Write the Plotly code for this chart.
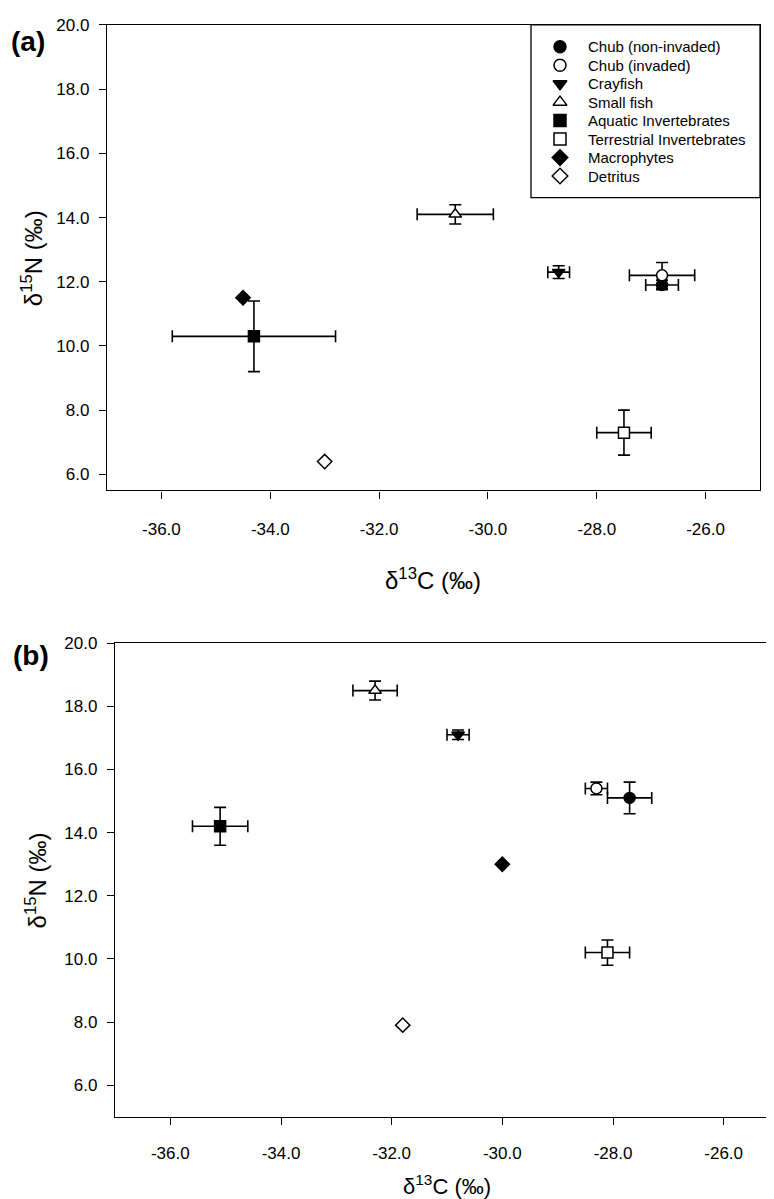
import plotly.graph_objects as go

W, H = 774, 1199

groups = ["Chub (non-invaded)", "Chub (invaded)", "Crayfish", "Small fish",
          "Aquatic Invertebrates", "Terrestrial Invertebrates", "Macrophytes", "Detritus"]

# Panel (a)
a_c13 = [-26.8, -26.8, -28.7, -30.6, -34.3, -27.5, -34.5, -33.0]
a_c13_err = [0.3, 0.6, 0.2, 0.7, 1.5, 0.5, 0.0, 0.0]
a_n15 = [11.9, 12.2, 12.3, 14.1, 10.3, 7.3, 11.5, 6.4]
a_n15_err = [0.15, 0.4, 0.2, 0.3, 1.1, 0.7, 0.0, 0.0]

# Panel (b)
b_c13 = [-27.7, -28.3, -30.8, -32.3, -35.1, -28.1, -30.0, -31.8]
b_c13_err = [0.4, 0.2, 0.2, 0.4, 0.5, 0.4, 0.0, 0.0]
b_n15 = [15.1, 15.4, 17.1, 18.5, 14.2, 10.2, 13.0, 7.9]
b_n15_err = [0.5, 0.2, 0.15, 0.3, 0.6, 0.4, 0.0, 0.0]

x_ticks = [-36, -34, -32, -30, -28, -26]
x_tick_labels = ["-36.0", "-34.0", "-32.0", "-30.0", "-28.0", "-26.0"]
y_ticks = [6, 8, 10, 12, 14, 16, 18, 20]
y_tick_labels = ["6.0", "8.0", "10.0", "12.0", "14.0", "16.0", "18.0", "20.0"]

symbols = ["circle", "circle", "triangle-down", "triangle-up",
           "square", "square", "diamond", "diamond"]
fills = ["black", "white", "black", "white", "black", "white", "black", "white"]

FONT = "Arial, Liberation Sans, sans-serif"


def px_x(p):
    return p / W


def px_y(p):
    return 1 - p / H


fig = go.Figure()

for panel, (xs, xe, ys, ye, xa, ya) in enumerate([
        (a_c13, a_c13_err, a_n15, a_n15_err, "x", "y"),
        (b_c13, b_c13_err, b_n15, b_n15_err, "x2", "y2")]):
    for i, g in enumerate(groups):
        has_err = xe[i] > 0 or ye[i] > 0
        fig.add_trace(go.Scatter(
            x=[xs[i]], y=[ys[i]], mode="markers", name=g,
            xaxis=xa, yaxis=ya, showlegend=False,
            marker=dict(symbol=symbols[i], size=11, color=fills[i],
                        line=dict(color="black", width=1.5)),
            error_x=dict(type="data", array=[xe[i]], visible=has_err,
                         color="black", thickness=1.6, width=6),
            error_y=dict(type="data", array=[ye[i]], visible=has_err,
                         color="black", thickness=1.6, width=6),
        ))

# Legend (panel a): drawn on a transparent overlay axis measured in figure pixels
LEG_MARK_X = 552
LEG_TEXT_X = 578
LEG_TOP = 30
LEG_STEP = 18.6
for i, g in enumerate(groups):
    fig.add_trace(go.Scatter(
        x=[LEG_MARK_X], y=[LEG_TOP + i * LEG_STEP], mode="markers",
        xaxis="x3", yaxis="y3", showlegend=False, hoverinfo="skip",
        marker=dict(symbol=symbols[i], size=12, color=fills[i],
                    line=dict(color="black", width=1.5)),
    ))
    fig.add_annotation(text=g, x=LEG_TEXT_X, y=LEG_TOP + i * LEG_STEP,
                       xref="x3", yref="y3", showarrow=False,
                       xanchor="left", yanchor="middle",
                       font=dict(family=FONT, size=15, color="black"))

axis_common = dict(
    showline=True, linecolor="black", linewidth=1.3, mirror=True,
    ticks="outside", ticklen=7, tickwidth=1.2, tickcolor="black",
    showgrid=False, zeroline=False,
    tickfont=dict(family=FONT, size=17, color="black"),
)

# panel a: x 99..752, y 8..477 ; panel b: x 107..771, y 631..1108
fig.update_layout(
    width=W, height=H,
    margin=dict(l=0, r=0, t=0, b=0),
    paper_bgcolor="white", plot_bgcolor="rgba(0,0,0,0)",
    xaxis=dict(domain=[px_x(99), px_x(752)], range=[-37, -25], tickvals=x_ticks,
               ticktext=x_tick_labels, anchor="y", ticklabelstandoff=16, **axis_common),
    yaxis=dict(domain=[px_y(477), px_y(8)], range=[5.5, 20], tickvals=y_ticks,
               ticktext=y_tick_labels, anchor="x", ticklabelstandoff=6, **axis_common),
    xaxis2=dict(domain=[px_x(107), px_x(771)], range=[-37, -25], tickvals=x_ticks,
                ticktext=x_tick_labels, anchor="y2", ticklabelstandoff=14, **axis_common),
    yaxis2=dict(domain=[px_y(1108), px_y(631)], range=[5, 20], tickvals=y_ticks,
                ticktext=y_tick_labels, anchor="x2", ticklabelstandoff=6, **axis_common),
    xaxis3=dict(domain=[0, 1], range=[0, W], visible=False, anchor="y3",
                fixedrange=True),
    yaxis3=dict(domain=[0, 1], range=[H, 0], visible=False, anchor="x3",
                fixedrange=True),
    showlegend=False,
)

fig.add_shape(type="rect", xref="paper", yref="paper",
              x0=px_x(523), x1=px_x(752), y0=px_y(182), y1=px_y(8),
              line=dict(color="black", width=1.3), fillcolor="rgba(0,0,0,0)")

ann = [
    ("<b>(a)</b>", 20, 25, 28, 0, "middle"),
    ("<b>(b)</b>", 23, 643, 28, 0, "middle"),
    ("δ<sup>13</sup>C (‰)", 425, 566, 24, 0, "middle"),
    ("δ<sup>13</sup>C (‰)", 439, 1193, 22, 0, "bottom"),
    ("δ<sup>15</sup>N (‰)", 24, 243, 24, -90, "middle"),
    ("δ<sup>15</sup>N (‰)", 28, 870, 24, -90, "middle"),
]
for text, x, y, size, rot, ya in ann:
    fig.add_annotation(text=text, x=px_x(x), y=px_y(y), xref="paper", yref="paper",
                       showarrow=False, textangle=rot, xanchor="center", yanchor=ya,
                       font=dict(family=FONT, size=size, color="black"))

fig.write_html("out.html")
